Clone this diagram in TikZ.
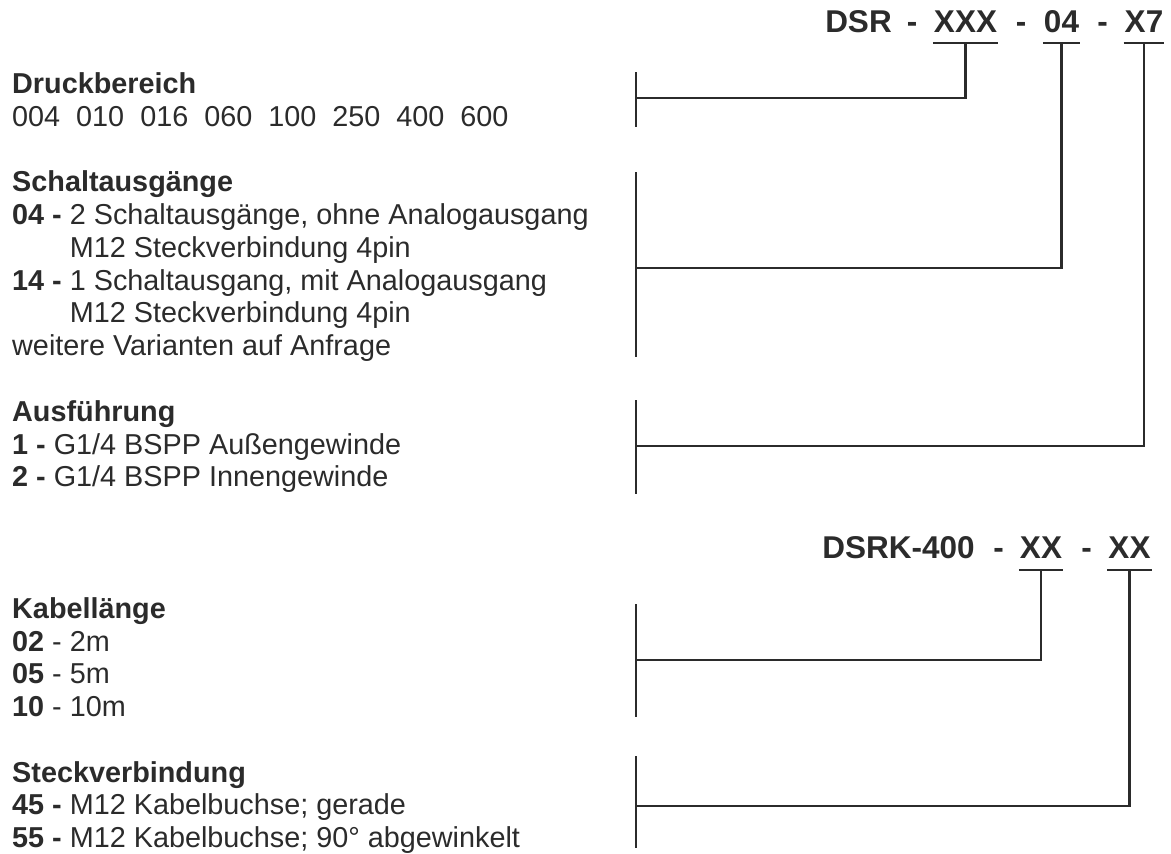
\documentclass[tikz,border=0pt]{standalone}
\usepackage{fontspec}
\setmainfont{Liberation Sans}
\usepackage{tikz}
\usetikzlibrary{positioning,calc}
\definecolor{ink}{HTML}{2B2B2B}
\tikzset{
  code/.style={font=\fontsize{31.5}{36}\selectfont\bfseries, inner sep=0pt, anchor=base},
  block/.style={font=\fontsize{28.8}{32.8}\selectfont, inner sep=0pt, anchor=north west, align=left},
  rule/.style={line width=2.5pt, draw=ink},
}
\begin{document}
\begin{tikzpicture}[x=1pt, y=-1pt, text=ink]
    \useasboundingbox (0,0) rectangle (1171,854);
    % type code DSR
    \node[code] (dsr) at (858.5,32) {DSR};
    \node[code] (h1) at (912,32) {-};
    \node[code] (xxx) at (965.5,32) {XXX};
    \node[code] (h2) at (1021,32) {-};
    \node[code] (c04) at (1061.5,32) {04};
    \node[code] (h3) at (1102.5,32) {-};
    \node[code] (x7) at (1144,32) {X7};
    % type code DSRK
    \node[code] (dsrk) at (898.5,558) {DSRK-400};
    \node[code] (k1) at (998.5,558) {-};
    \node[code] (xx1) at (1041,558) {XX};
    \node[code] (k2) at (1086.5,558) {-};
    \node[code] (xx2) at (1129.5,558) {XX};
    \draw[rule] ($(xxx.base west)+(-1,11)$) -- ($(xxx.base east)+(1,11)$);
    \draw[rule] ($(c04.base west)+(-1,11)$) -- ($(c04.base east)+(1,11)$);
    \draw[rule] ($(x7.base west)+(-1,11)$) -- ($(x7.base east)+(1,11)$);
    \draw[rule] ($(xx1.base west)+(-1,12)$) -- ($(xx1.base east)+(1,12)$);
    \draw[rule] ($(xx2.base west)+(-1,12)$) -- ($(xx2.base east)+(1,12)$);
    % option blocks
    \node[block] (druck) at (12,72.3) {\textbf{Druckbereich}\\004\ \ 010\ \ 016\ \ 060\ \ 100\ \ 250\ \ 400\ \ 600};
    \node[block] (schalt) at (12,170.7) {\textbf{Schaltausgänge}\\
        \textbf{04 -} 2 Schaltausgänge, ohne Analogausgang\\
        \phantom{\textbf{04 - }}M12 Steckverbindung 4pin\\
        \textbf{14 -} 1 Schaltausgang, mit Analogausgang\\
        \phantom{\textbf{14 - }}M12 Steckverbindung 4pin\\
        weitere Varianten auf Anfrage};
    \node[block] (ausf) at (12,400.3) {\textbf{Ausführung}\\
        \textbf{1 -} G1/4 BSPP Außengewinde\\
        \textbf{2 -} G1/4 BSPP Innengewinde};
    \node[block] (kabel) at (12,597.3) {\textbf{Kabellänge}\\
        \textbf{02} - 2m\\
        \textbf{05} - 5m\\
        \textbf{10} - 10m};
    \node[block] (steck) at (12,761.1) {\textbf{Steckverbindung}\\
        \textbf{45 -} M12 Kabelbuchse; gerade\\
        \textbf{55 -} M12 Kabelbuchse; 90° abgewinkelt};
    % brackets
    \draw[rule] (636,72) -- (636,127);
    \draw[rule] (636,172) -- (636,357);
    \draw[rule] (636,400) -- (636,494);
    \draw[rule] (636,604) -- (636,717);
    \draw[rule] (636,756) -- (636,848);
    \coordinate (b1) at (636,98);
    \coordinate (b2) at (636,268);
    \coordinate (b3) at (636,446);
    \coordinate (b4) at (636,660);
    \coordinate (b5) at (636,806);
    \draw[rule] ($(xxx.base)+(0,11)$) |- (b1);
    \draw[rule] ($(c04.base)+(0,11)$) |- (b2);
    \draw[rule] ($(x7.base)+(0,11)$) |- (b3);
    \draw[rule] ($(xx1.base)+(0,12)$) |- (b4);
    \draw[rule] ($(xx2.base)+(0,12)$) |- (b5);
\end{tikzpicture}
\end{document}
